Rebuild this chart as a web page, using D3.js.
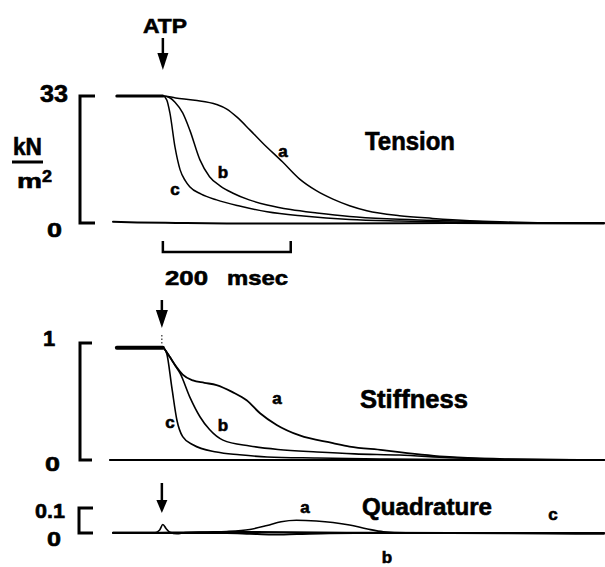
<!DOCTYPE html>
<html><head><meta charset="utf-8">
<script src="https://cdn.jsdelivr.net/npm/d3@7"></script>
<style>
html,body{margin:0;padding:0;background:#fff;}
svg text{font-family:"Liberation Sans",Arial,Helvetica,sans-serif;font-weight:bold;fill:#000;stroke:#000;stroke-width:0.6px;}
</style>
</head><body>
<svg id="chart" width="605" height="567"></svg>
<script>
// ---- data (time in msec relative to ATP release) ----
const tensionA = [[-72,33],[0,33],[20,32.5],[50,31.9],[84,30.8],[100,29.6],[116,27.5],[136,24.2],[156,20.8],[187,15.9],[214,11.4],[240,8.4],[266,6.2],[292,4.5],[319,3.2],[370,1.9],[422,1.2],[480,0.6],[527,0.3],[600,0.05],[690,0]];
const tensionB = [[-72,33],[0,33],[10,32.6],[19,31.4],[31,28.6],[42,24.2],[58,16.4],[73,12.0],[90,9.6],[109,7.8],[135,6.0],[163,4.7],[200,3.5],[241,2.6],[292,1.7],[350,1.1],[422,0.7],[500,0.3],[580,0.05],[690,0]];
const tensionC = [[-72,33],[0,33],[6,32],[11,28.6],[19,19.7],[27,13.8],[35,11.0],[42,9.4],[60,7.5],[84,6.0],[120,4.4],[163,2.9],[220,1.8],[292,0.9],[370,0.5],[450,0.25],[550,0.05],[690,0]];
const tensionBase = [[-78,0.3],[-40,0.15],[20,0],[100,-0.1],[250,-0.1],[450,0],[690,-0.1]];

const stiffA = [[-72,0.96],[0,0.96],[5,0.93],[11,0.88],[22,0.79],[31,0.73],[47,0.68],[65,0.66],[84,0.64],[109,0.58],[131,0.51],[152,0.40],[178,0.30],[214,0.21],[266,0.145],[292,0.115],[344,0.085],[370,0.068],[448,0.026],[527,0.009],[600,0.002],[690,0]];
const stiffB = [[-72,0.96],[0,0.96],[5,0.93],[11,0.88],[20,0.80],[27,0.74],[42,0.54],[58,0.37],[73,0.26],[94,0.17],[136,0.12],[180,0.09],[241,0.068],[300,0.052],[370,0.043],[448,0.02],[530,0.006],[690,0]];
const stiffC = [[-72,0.96],[0,0.96],[6,0.91],[14,0.62],[22,0.34],[31,0.20],[47,0.13],[84,0.068],[120,0.045],[163,0.026],[241,0.017],[350,0.008],[450,0.003],[690,0]];
const stiffBase = [[-83,0],[690,0]];

const quadA = [[-78,0.002],[-12,0.002],[-5,0.012],[0,0.034],[5,0.018],[11,0.003],[22,-0.003],[35,0.002],[70,0.004],[100,0.006],[136,0.014],[163,0.03],[185,0.045],[209,0.051],[240,0.048],[266,0.042],[292,0.032],[320,0.016],[345,0.005],[380,0.001],[500,0],[690,0]];
const quadB = [[-78,0],[100,0],[136,-0.003],[170,-0.006],[210,-0.004],[260,-0.001],[320,0],[690,0]];
const quadC = [[-78,0.001],[-10,0.001],[30,0.002],[120,0.004],[200,0.003],[300,0.001],[450,0],[600,-0.002],[690,-0.003]];

const tensionTicks = ["0","33"];
const stiffTicks = ["0","1"];
const quadTicks = ["0","0.1"];
const scaleBarMs = 200;

// ---- scales ----
const svg = d3.select("#chart");
const x = d3.scaleLinear().domain([-78, 690]).range([113, 604]);
const yT = d3.scaleLinear().domain([0, 33]).range([223, 96]);
const yS = d3.scaleLinear().domain([0, 1]).range([460, 343]);
const yQ = d3.scaleLinear().domain([0, 0.1]).range([533, 508]);

function drawLine(data, y, w) {
  svg.append("path").datum(data)
    .attr("d", d3.line().x(d => x(d[0])).y(d => y(d[1])).curve(d3.curveMonotoneX))
    .attr("fill", "none").attr("stroke", "#000").attr("stroke-width", w)
    .attr("stroke-linejoin", "round").attr("stroke-linecap", "round");
}
function txt(s, xx, yy, size, len, anchor) {
  const t = svg.append("text").attr("x", xx).attr("y", yy).attr("font-size", size)
    .attr("text-anchor", anchor || "start").text(s);
  if (len) t.attr("textLength", len).attr("lengthAdjust", "spacingAndGlyphs");
  return t;
}
function bracket(y, domTop, bx, tickEnd) {
  const y0 = y(0), y1 = y(domTop);
  svg.append("path")
    .attr("d", `M${tickEnd},${y1}H${bx}V${y0}H${tickEnd}`)
    .attr("fill", "none").attr("stroke", "#000").attr("stroke-width", 3);
}
function arrow(xx, top, headTop, tip, hw) {
  svg.append("line").attr("x1", xx).attr("x2", xx).attr("y1", top).attr("y2", headTop + 2)
    .attr("stroke", "#000").attr("stroke-width", 2.5);
  svg.append("path").attr("d", `M${xx - hw},${headTop}L${xx + hw},${headTop}L${xx},${tip}Z`).attr("fill", "#000");
}

// ---- Tension panel ----
bracket(yT, 33, 80, 95);
txt(tensionTicks[1], 54, 102, 23, 28, "middle");
txt(tensionTicks[0], 54.5, 237, 21, 15, "middle");
txt("kN", 13, 155, 23, 29);
svg.append("line").attr("x1", 12).attr("x2", 43).attr("y1", 162).attr("y2", 162).attr("stroke", "#000").attr("stroke-width", 3);
txt("m", 17, 188, 21, 25);
txt("2", 42, 182, 16, 10);
txt("ATP", 143, 33, 21, 44);
arrow(x(0), 38, 53, 70, 5.5);
drawLine(tensionBase, yT, 2);
drawLine(tensionA, yT, 1.5);
drawLine(tensionB, yT, 1.5);
drawLine(tensionC, yT, 1.5);
drawLine(tensionA.filter(d => d[0] <= 0), yT, 3);
txt("a", 283, 157, 17, null, "middle");
txt("b", 223, 178, 17, null, "middle");
txt("c", 175, 195, 17, null, "middle");
txt("Tension", 365, 150, 25, 90);

// scale bar
svg.append("path")
  .attr("d", `M${x(0)},241V252H${x(scaleBarMs)}V241`)
  .attr("fill", "none").attr("stroke", "#000").attr("stroke-width", 2.5);
txt("200", 165, 285, 21, 43);
txt("msec", 227, 285, 21, 61);

// ---- Stiffness panel ----
bracket(yS, 1, 80, 92);
txt(stiffTicks[1], 49, 346, 22, null, "middle");
txt(stiffTicks[0], 52.5, 471, 21, 15, "middle");
arrow(x(0) - 1, 300, 310, 328, 6);
svg.append("line").attr("x1", x(0) - 1).attr("x2", x(0) - 1).attr("y1", 335).attr("y2", 344)
  .attr("stroke", "#000").attr("stroke-width", 1).attr("stroke-dasharray", "1.5,2");
drawLine(stiffBase, yS, 1.8);
drawLine(stiffA, yS, 1.8);
drawLine(stiffB, yS, 1.6);
drawLine(stiffC, yS, 1.6);
drawLine(stiffA.filter(d => d[0] <= 0), yS, 4);
txt("a", 277, 404, 17, null, "middle");
txt("b", 223, 431, 17, null, "middle");
txt("c", 170, 428, 17, null, "middle");
txt("Stiffness", 360, 408, 25, 108);

// ---- Quadrature panel ----
bracket(yQ, 0.1, 79, 93);
txt(quadTicks[1], 50, 518, 21, 30, "middle");
txt(quadTicks[0], 54, 546, 20, 14, "middle");
arrow(x(0) - 1, 483, 500, 513, 5.5);
drawLine(quadB, yQ, 2);
drawLine(quadC, yQ, 2);
drawLine(quadA, yQ, 1.6);
txt("a", 305, 513, 17, null, "middle");
txt("b", 387, 563, 17, null, "middle");
txt("c", 553, 520, 17, null, "middle");
txt("Quadrature", 362, 515, 24, 130);
</script>
</body></html>
